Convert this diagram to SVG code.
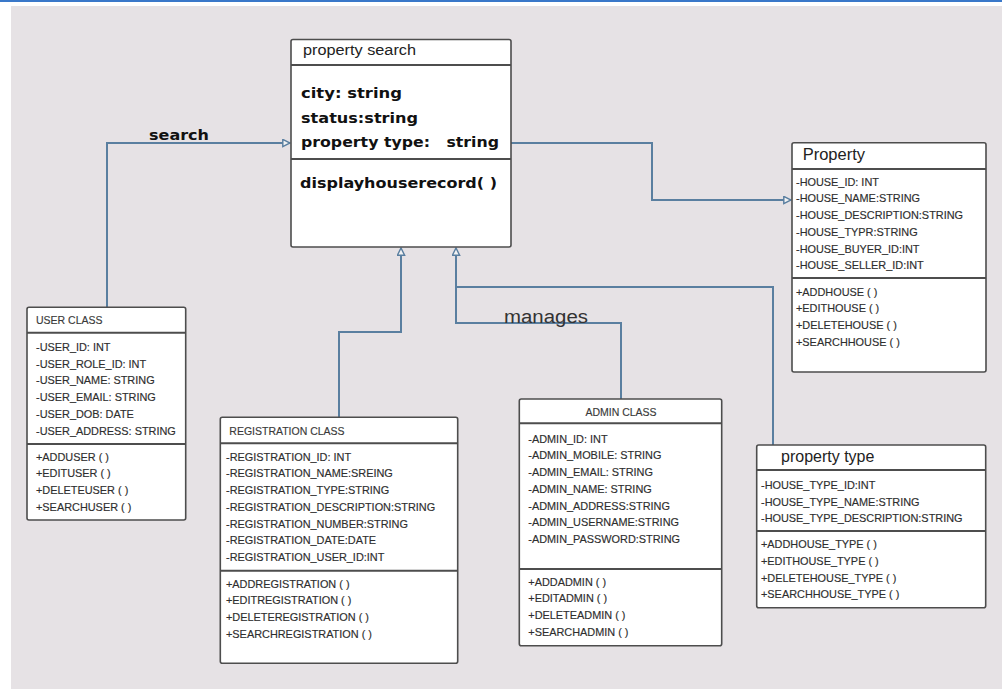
<svg xmlns="http://www.w3.org/2000/svg" width="1002" height="689" viewBox="0 0 1002 689">
<style>
.box{fill:#ffffff;stroke:#4d4d4d;stroke-width:1.6}
.div{stroke:#4d4d4d;stroke-width:2}
.conn{fill:none;stroke:#5a7fa0;stroke-width:2}
.t{font-family:"Liberation Sans",Arial,sans-serif;font-size:10.9px;fill:#2e2e2e;stroke:#2e2e2e;stroke-width:0.15}
.ttl{font-family:"Liberation Sans",Arial,sans-serif;font-size:10.5px;fill:#3a3a3a;stroke:#3a3a3a;stroke-width:0.15}
.big{font-family:"Liberation Sans",Arial,sans-serif;font-size:16px;fill:#222222}
.bold{font-family:"DejaVu Sans","Liberation Sans",sans-serif;font-weight:bold;font-size:14px;fill:#111111}
.lbl{font-family:"Liberation Sans",Arial,sans-serif;font-size:18px;fill:#333333}
</style>
<defs>
<marker id="tri" viewBox="0 0 10 10" refX="9" refY="5" markerWidth="9" markerHeight="9" markerUnits="userSpaceOnUse" orient="auto">
<path d="M1,1 L9,5 L1,9 z" fill="#f2f2f2" stroke="#5a7fa0" stroke-width="1.6"/>
</marker>
</defs>
<rect x="0" y="0" width="1002" height="689" fill="#ffffff"/>
<rect x="11" y="6" width="991" height="683" fill="#e6e2e5"/>
<rect x="0" y="0" width="1002" height="2" fill="#3a78c9"/>

<g id="connectors">
<path class="conn" d="M107,307 V143 H290" marker-end="url(#tri)"/>
<path class="conn" d="M511,143 H652 V200 H791" marker-end="url(#tri)"/>
<path class="conn" d="M339,417 V332 H401 V248" marker-end="url(#tri)"/>
<path class="conn" d="M621,399 V323 H456 V248" marker-end="url(#tri)"/>
<path class="conn" d="M773,445 V287 H456"/>
<text class="bold" x="149" y="140" textLength="60" lengthAdjust="spacingAndGlyphs">search</text>
<text class="lbl" x="504" y="323" textLength="84" lengthAdjust="spacingAndGlyphs">manages</text>
</g>

<g id="property-search">
<rect class="box" x="291" y="39.5" width="220" height="207.5" rx="2"/>
<line class="div" x1="291" y1="65" x2="511" y2="65"/>
<line class="div" x1="291" y1="159" x2="511" y2="159"/>
<text class="big" x="303" y="55" style="font-size:14px" textLength="113" lengthAdjust="spacingAndGlyphs">property search</text>
<text class="bold" x="301" y="98" textLength="101" lengthAdjust="spacingAndGlyphs">city: string</text>
<text class="bold" x="301" y="122.7" textLength="117" lengthAdjust="spacingAndGlyphs">status:string</text>
<text class="bold" x="301" y="146.7" textLength="198" lengthAdjust="spacingAndGlyphs" xml:space="preserve">property type:   string</text>
<text class="bold" x="300" y="187.7" textLength="197" lengthAdjust="spacingAndGlyphs">displayhouserecord( )</text>
</g>

<g id="property">
<rect class="box" x="792" y="142.7" width="194" height="229.3" rx="2"/>
<line class="div" x1="792" y1="169" x2="986" y2="169"/>
<line class="div" x1="792" y1="278" x2="986" y2="278"/>
<text class="big" x="802.7" y="160" style="font-size:16.5px">Property</text>
<text class="t" x="796" y="185.7">-HOUSE_ID: INT</text>
<text class="t" x="796" y="202.4">-HOUSE_NAME:STRING</text>
<text class="t" x="796" y="219.1">-HOUSE_DESCRIPTION:STRING</text>
<text class="t" x="796" y="235.8">-HOUSE_TYPR:STRING</text>
<text class="t" x="796" y="252.5">-HOUSE_BUYER_ID:INT</text>
<text class="t" x="796" y="269.2">-HOUSE_SELLER_ID:INT</text>
<text class="t" x="796" y="295.7">+ADDHOUSE ( )</text>
<text class="t" x="796" y="312.4">+EDITHOUSE ( )</text>
<text class="t" x="796" y="329.1">+DELETEHOUSE ( )</text>
<text class="t" x="796" y="345.8">+SEARCHHOUSE ( )</text>
</g>

<g id="user-class">
<rect class="box" x="27" y="307.3" width="158.7" height="212.7" rx="2"/>
<line class="div" x1="27" y1="332.7" x2="185.7" y2="332.7"/>
<line class="div" x1="27" y1="444" x2="185.7" y2="444"/>
<text class="ttl" x="36" y="324.3">USER CLASS</text>
<text class="t" x="36" y="351">-USER_ID: INT</text>
<text class="t" x="36" y="367.7">-USER_ROLE_ID: INT</text>
<text class="t" x="36" y="384.4">-USER_NAME: STRING</text>
<text class="t" x="36" y="401.1">-USER_EMAIL: STRING</text>
<text class="t" x="36" y="417.8">-USER_DOB: DATE</text>
<text class="t" x="36" y="434.5">-USER_ADDRESS: STRING</text>
<text class="t" x="36" y="460.7">+ADDUSER ( )</text>
<text class="t" x="36" y="477.4">+EDITUSER ( )</text>
<text class="t" x="36" y="494.1">+DELETEUSER ( )</text>
<text class="t" x="36" y="510.8">+SEARCHUSER ( )</text>
</g>

<g id="registration-class">
<rect class="box" x="220.3" y="417.3" width="237.4" height="246" rx="2"/>
<line class="div" x1="220.3" y1="443.3" x2="457.7" y2="443.3"/>
<line class="div" x1="220.3" y1="570.7" x2="457.7" y2="570.7"/>
<text class="ttl" x="229.3" y="435">REGISTRATION CLASS</text>
<text class="t" x="226" y="460.7">-REGISTRATION_ID: INT</text>
<text class="t" x="226" y="477.4">-REGISTRATION_NAME:SREING</text>
<text class="t" x="226" y="494.1">-REGISTRATION_TYPE:STRING</text>
<text class="t" x="226" y="510.8">-REGISTRATION_DESCRIPTION:STRING</text>
<text class="t" x="226" y="527.5">-REGISTRATION_NUMBER:STRING</text>
<text class="t" x="226" y="544.2">-REGISTRATION_DATE:DATE</text>
<text class="t" x="226" y="560.9">-REGISTRATION_USER_ID:INT</text>
<text class="t" x="226" y="587.7">+ADDREGISTRATION ( )</text>
<text class="t" x="226" y="604.4">+EDITREGISTRATION ( )</text>
<text class="t" x="226" y="621.1">+DELETEREGISTRATION ( )</text>
<text class="t" x="226" y="637.8">+SEARCHREGISTRATION ( )</text>
</g>

<g id="admin-class">
<rect class="box" x="519.3" y="399" width="202.4" height="246.7" rx="2"/>
<line class="div" x1="519.3" y1="423.3" x2="721.7" y2="423.3"/>
<line class="div" x1="519.3" y1="569" x2="721.7" y2="569"/>
<text class="ttl" x="621" y="416" text-anchor="middle">ADMIN CLASS</text>
<text class="t" x="528.3" y="442.7">-ADMIN_ID: INT</text>
<text class="t" x="528.3" y="459.4">-ADMIN_MOBILE: STRING</text>
<text class="t" x="528.3" y="476.1">-ADMIN_EMAIL: STRING</text>
<text class="t" x="528.3" y="492.8">-ADMIN_NAME: STRING</text>
<text class="t" x="528.3" y="509.5">-ADMIN_ADDRESS:STRING</text>
<text class="t" x="528.3" y="526.2">-ADMIN_USERNAME:STRING</text>
<text class="t" x="528.3" y="542.9">-ADMIN_PASSWORD:STRING</text>
<text class="t" x="528.3" y="585.7">+ADDADMIN ( )</text>
<text class="t" x="528.3" y="602.4">+EDITADMIN ( )</text>
<text class="t" x="528.3" y="619.1">+DELETEADMIN ( )</text>
<text class="t" x="528.3" y="635.8">+SEARCHADMIN ( )</text>
</g>

<g id="property-type">
<rect class="box" x="756.7" y="445" width="229" height="162.7" rx="2"/>
<line class="div" x1="756.7" y1="470" x2="985.7" y2="470"/>
<line class="div" x1="756.7" y1="531" x2="985.7" y2="531"/>
<text class="big" x="781" y="461.7">property type</text>
<text class="t" x="761" y="489">-HOUSE_TYPE_ID:INT</text>
<text class="t" x="761" y="505.7">-HOUSE_TYPE_NAME:STRING</text>
<text class="t" x="761" y="522.4">-HOUSE_TYPE_DESCRIPTION:STRING</text>
<text class="t" x="761" y="548.3">+ADDHOUSE_TYPE ( )</text>
<text class="t" x="761" y="565">+EDITHOUSE_TYPE ( )</text>
<text class="t" x="761" y="581.7">+DELETEHOUSE_TYPE ( )</text>
<text class="t" x="761" y="598.4">+SEARCHHOUSE_TYPE ( )</text>
</g>
</svg>
